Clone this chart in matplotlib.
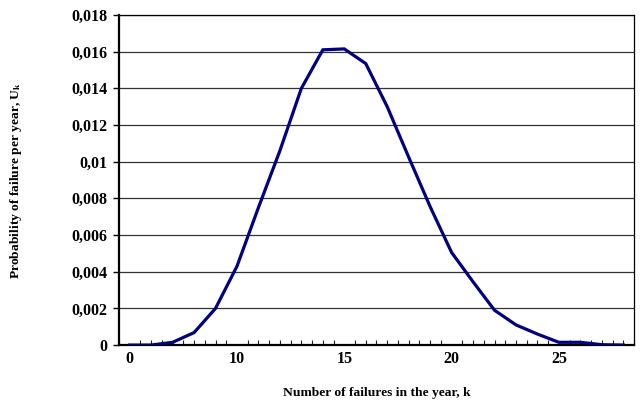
import matplotlib
matplotlib.use("Agg")
import matplotlib.pyplot as plt
import numpy as np

# categories (k) as shown on the category axis
categories = ["0"] + [str(k) for k in range(6, 29)]
# probability of failure per year, U_k
values = [0.0, 0.0, 0.00015, 0.00068, 0.00200, 0.00430, 0.00750, 0.01060,
          0.01400, 0.01610, 0.01615, 0.01535, 0.01300, 0.01025, 0.00755,
          0.00505, 0.00345, 0.00190, 0.00110, 0.00060, 0.00015, 0.00015,
          0.00002, 0.0]
y_ticks = [0, 0.002, 0.004, 0.006, 0.008, 0.01, 0.012, 0.014, 0.016, 0.018]
y_tick_labels = ["0", "0,002", "0,004", "0,006", "0,008", "0,01", "0,012",
                 "0,014", "0,016", "0,018"]
label_every = 5

plt.rcParams['font.family'] = ['Liberation Serif', 'DejaVu Serif']
plt.rcParams['mathtext.fontset'] = 'custom'
plt.rcParams['mathtext.rm'] = 'Liberation Serif:bold'
plt.rcParams['mathtext.it'] = 'Liberation Serif:bold'
plt.rcParams['mathtext.bf'] = 'Liberation Serif:bold'

fig = plt.figure(figsize=(6.43, 4.05), dpi=100)
ax = fig.add_axes([0.185, 0.148, 0.801, 0.815])

x = np.arange(len(categories))
ax.plot(x, values, color='#000080', lw=2.3, solid_joinstyle='miter', zorder=3)

ax.set_xlim(-0.5, len(categories) - 0.5)
ax.set_ylim(0, 0.018)

ax.set_yticks(y_ticks)
ax.set_yticklabels(y_tick_labels, fontsize=11.5, fontweight='bold')
ax.yaxis.grid(True, color='#333333', lw=0.9)
ax.set_axisbelow(True)

ax.set_xticks(x[::label_every])
ax.set_xticklabels([categories[i] for i in range(0, len(categories), label_every)],
                   fontsize=11.5, fontweight='bold')
ax.set_xticks(np.arange(-0.5, len(categories), 0.5), minor=True)
ax.tick_params(axis='x', which='major', length=0, pad=4.5)
ax.tick_params(axis='x', which='minor', direction='in', length=3.5, width=0.8, color='#222222')
ax.tick_params(axis='y', which='major', direction='out', length=4, width=1, pad=4)

for side in ['left', 'bottom']:
    ax.spines[side].set_linewidth(1.6)
for side in ['right', 'top']:
    ax.spines[side].set_linewidth(0.9)

ax.set_xlabel("Number of failures in the year, k", fontsize=9.7, fontweight='bold', labelpad=14)
ax.set_ylabel("Probability of failure per year, U$_\\mathrm{k}$", fontsize=9.7, fontweight='bold', labelpad=34)

fig.savefig("out.png", dpi=100)
